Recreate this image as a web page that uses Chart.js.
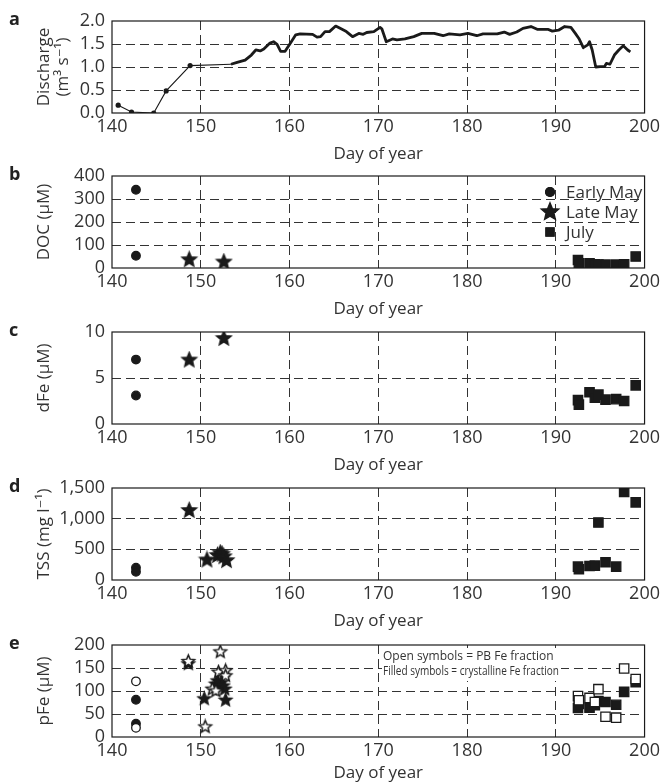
<!DOCTYPE html>
<html>
<head>
<meta charset="utf-8">
<script src="https://cdn.jsdelivr.net/npm/chart.js@4.4.1/dist/chart.umd.min.js"></script>
<style>
  html, body { margin: 0; padding: 0; background: #fff; }
  #wrap { position: relative; width: 663px; height: 784px; overflow: hidden; }
  #wrap canvas { position: absolute; left: 0; }
</style>
</head>
<body>
<div id="wrap">
  <canvas id="pa" width="663" height="165" style="top:0px"></canvas>
  <canvas id="pb" width="663" height="165" style="top:155px"></canvas>
  <canvas id="pc" width="663" height="165" style="top:311px"></canvas>
  <canvas id="pd" width="663" height="165" style="top:467px"></canvas>
  <canvas id="pe" width="663" height="160" style="top:624px"></canvas>
</div>
<script>
// day-of-year axis
const dayTicks = [140, 150, 160, 170, 180, 190, 200];

// a: discharge (m3 s-1)
const dischargeEarlyDays = [140.7, 142.2, 144.7, 146.1, 148.8, 153.4];
const dischargeEarly = [0.17, 0.02, 0.0, 0.48, 1.03, 1.06];
const dischargeDays = [153.4, 154.1, 155.0, 155.7, 156.2, 156.7, 157.1, 157.8, 158.2, 158.6, 159.0, 159.5, 160.0, 160.2, 160.7, 161.2, 162.6, 163.1, 163.5, 164.0, 164.5, 165.2, 165.7, 166.4, 167.1, 167.8, 168.3, 168.7, 169.5, 170.2, 170.4, 170.9, 171.6, 172.1, 173.0, 174.0, 174.9, 176.3, 177.3, 178.0, 179.2, 180.1, 181.1, 181.8, 183.4, 184.2, 184.8, 185.6, 186.3, 187.2, 187.9, 188.7, 189.1, 189.6, 190.3, 191.0, 191.7, 192.2, 192.6, 193.1, 193.6, 193.8, 194.1, 194.5, 195.0, 195.5, 195.7, 196.1, 196.6, 197.1, 197.6, 198.1, 198.4];
const discharge = [1.06, 1.10, 1.15, 1.26, 1.37, 1.35, 1.39, 1.52, 1.55, 1.49, 1.34, 1.34, 1.49, 1.55, 1.70, 1.72, 1.71, 1.65, 1.66, 1.77, 1.77, 1.89, 1.84, 1.77, 1.66, 1.73, 1.71, 1.75, 1.77, 1.86, 1.83, 1.55, 1.61, 1.59, 1.61, 1.66, 1.73, 1.73, 1.68, 1.72, 1.70, 1.73, 1.68, 1.72, 1.72, 1.76, 1.71, 1.76, 1.84, 1.88, 1.82, 1.82, 1.82, 1.78, 1.80, 1.88, 1.86, 1.73, 1.62, 1.42, 1.48, 1.55, 1.37, 1.00, 1.01, 1.01, 1.08, 1.06, 1.26, 1.37, 1.46, 1.37, 1.33];

// sampling days per campaign
const earlyMayDays = [142.7, 142.7];
const julyDays = [192.5, 192.6, 193.8, 194.4, 194.8, 195.6, 196.8, 197.7, 199.0];

// b: DOC (uM)
const docLateMayDays = [148.7, 152.6];
const docEarlyMay = [340, 53];
const docLateMay = [36, 26];
const docJuly = [35, 20, 20, 16, 15, 15, 15, 16, 50];

// c: dFe (uM)
const dfeLateMayDays = [148.7, 152.6];
const dfeEarlyMay = [7.0, 3.1];
const dfeLateMay = [6.95, 9.3];
const dfeJuly = [2.6, 2.1, 3.45, 2.85, 3.2, 2.65, 2.7, 2.5, 4.2];

// d: TSS (mg l-1)
const tssLateMayDays = [148.7, 150.7, 151.9, 152.2, 152.4, 152.6, 152.9];
const tssEarlyMay = [200, 135];
const tssLateMay = [1134, 327, 400, 440, 420, 380, 316];
const tssJuly = [218, 175, 229, 235, 938, 289, 218, 1435, 1265];

// e: pFe (uM), open = PB fraction, filled = crystalline fraction
const pfeEarlyMayOpen = [121, 20];
const pfeEarlyMayFilled = [81, 29];
const pfeLateMayOpenDays = [148.6, 150.5, 151.3, 151.7, 152.0, 152.2, 152.8, 152.8];
const pfeLateMayOpen = [164, 22, 104, 100, 141, 185, 144, 133];
const pfeLateMayFilledDays = [148.6, 150.4, 151.7, 151.9, 152.3, 152.5, 152.7, 152.8];
const pfeLateMayFilled = [159, 83, 115, 122, 118, 111, 104, 80];
const pfeJulyOpen = [89, 80, 85, 76, 104, 44, 42, 149, 126];
const pfeJulyFilled = [63, 72, 64, 69, 78, 76, 70, 98, 119];

const INK = '#1a1a1a';
const TEXT = '#333';
Chart.defaults.font.family = "'Open Sans', 'DejaVu Sans', sans-serif";
Chart.defaults.color = TEXT;

function pts(days, vals) {
  return vals.map((v, i) => ({ x: days[i], y: v }));
}

// five-point star used as a point image
function starImage(r, filled) {
  const c = document.createElement('canvas');
  const s = Math.ceil(r * 2 + 4);
  c.width = s; c.height = s;
  const g = c.getContext('2d');
  g.beginPath();
  for (let i = 0; i < 10; i++) {
    const rad = i % 2 === 0 ? r : r * 0.45;
    const a = -Math.PI / 2 + i * Math.PI / 5;
    const px = s / 2 + rad * Math.cos(a), py = s / 2 + rad * Math.sin(a);
    if (i === 0) g.moveTo(px, py); else g.lineTo(px, py);
  }
  g.closePath();
  g.fillStyle = filled ? INK : '#fff';
  g.fill();
  g.lineWidth = 1.5;
  g.strokeStyle = INK;
  g.stroke();
  return c;
}

const starBig = starImage(7.5, true);
const starFilled = starImage(6.5, true);
const starOpen = starImage(6.5, false);

const framePlugin = {
  id: 'frame',
  beforeDatasetsDraw(chart, args, opts) {
    if (opts.under) opts.under(chart.ctx, chart);
  },
  afterDraw(chart, args, opts) {
    const { ctx, chartArea: a } = chart;
    ctx.save();
    ctx.strokeStyle = INK;
    ctx.lineWidth = 1.2;
    ctx.strokeRect(a.left, a.top, a.right - a.left, a.bottom - a.top);
    ctx.fillStyle = '#222';
    ctx.font = "bold 18px 'Open Sans', sans-serif";
    ctx.textBaseline = 'middle';
    ctx.fillText(opts.letter, 9, 20);
    if (opts.draw) opts.draw(ctx, chart);
    ctx.restore();
  }
};

function options(letter, yMax, yStep, yTitle, fmt, draw, under) {
  return {
    responsive: false,
    animation: false,
    layout: { padding: { top: 21, right: 15, left: 0, bottom: 0 } },
    plugins: {
      legend: { display: false },
      tooltip: { enabled: false },
      frame: { letter: letter, draw: draw, under: under }
    },
    scales: {
      x: {
        type: 'linear', min: 140, max: 200,
        afterFit: s => { s.height = s.chart.height - 21 - 92; },
        afterBuildTicks: s => { s.ticks = dayTicks.map(v => ({ value: v })); },
        ticks: { font: { size: 18 }, padding: 3, maxRotation: 0, autoSkip: false },
        grid: {
          drawTicks: false, lineWidth: 1,
          color: c => (c.tick && (c.tick.value === 140 || c.tick.value === 200)) ? 'rgba(0,0,0,0)' : '#333'
        },
        border: { display: false, dash: [9, 5] },
        title: { display: true, text: 'Day of year', font: { size: 17, lineHeight: 1 }, padding: { bottom: 2.5 }, color: TEXT }
      },
      y: {
        min: 0, max: yMax,
        afterFit: s => { s.width = 112; },
        ticks: { stepSize: yStep, font: { size: 18, lineHeight: 1 }, padding: 7, callback: fmt, autoSkip: false },
        grid: {
          drawTicks: false, lineWidth: 1,
          color: c => (c.tick && (c.tick.value === 0 || c.tick.value === yMax)) ? 'rgba(0,0,0,0)' : '#333'
        },
        border: { display: false, dash: [9, 5] },
        title: { display: true, text: yTitle, font: { size: 17, lineHeight: 1.15 }, padding: { top: 34 }, color: TEXT }
      }
    }
  };
}

function circles(data, filled) {
  return {
    data: data, pointStyle: 'circle', pointRadius: 4.3,
    pointBackgroundColor: filled ? INK : '#fff', pointBorderColor: INK, pointBorderWidth: 1.3
  };
}
function squares(data, filled) {
  return {
    data: data, pointStyle: 'rect', pointRadius: 6.6,
    pointBackgroundColor: filled ? INK : '#fff', pointBorderColor: INK, pointBorderWidth: 1.3
  };
}
function stars(data, img) {
  return { data: data, pointStyle: img, pointRadius: 6 };
}

// a
new Chart(document.getElementById('pa'), {
  type: 'scatter',
  data: {
    datasets: [
      {
        data: pts(dischargeEarlyDays, dischargeEarly), showLine: true,
        borderColor: INK, borderWidth: 1.1, pointRadius: [2.6, 2.6, 2.6, 2.6, 2.6, 0],
        pointBackgroundColor: INK, pointBorderWidth: 0
      },
      {
        data: pts(dischargeDays, discharge), showLine: true,
        borderColor: INK, borderWidth: 2.8, pointRadius: 0, borderJoinStyle: 'round'
      }
    ]
  },
  options: options('a', 2.0, 0.5, ['Discharge', '(m\u00B3 s\u207B\u00B9)'], v => v.toFixed(1)),
  plugins: [framePlugin]
});

// b
const legendRows = [
  { label: 'Early May', kind: 'circle' },
  { label: 'Late May', kind: 'star' },
  { label: 'July', kind: 'rect' }
];
new Chart(document.getElementById('pb'), {
  type: 'scatter',
  data: {
    datasets: [
      circles(pts(earlyMayDays, docEarlyMay), true),
      stars(pts(docLateMayDays, docLateMay), starBig),
      squares(pts(julyDays, docJuly), true)
    ]
  },
  options: options('b', 400, 100, 'DOC (\u03BCM)', v => v, (ctx, chart) => {
    const a = chart.chartArea;
    ctx.font = "17px 'Open Sans', sans-serif";
    ctx.textBaseline = 'middle';
    legendRows.forEach((r, i) => {
      const x = a.left + 438, y = a.top + 16 + i * 20;
      if (r.kind === 'star') {
        const big = starImage(9, true);
        ctx.drawImage(big, x - big.width / 2, y - big.height / 2);
      } else {
        ctx.fillStyle = INK;
        Chart.helpers.drawPoint(ctx, { pointStyle: r.kind, radius: r.kind === 'rect' ? 6.6 : 5, borderWidth: 0 }, x, y);
        ctx.fill();
      }
      ctx.fillStyle = TEXT;
      ctx.fillText(r.label, x + 16, y + 1);
    });
  }),
  plugins: [framePlugin]
});

// c
new Chart(document.getElementById('pc'), {
  type: 'scatter',
  data: {
    datasets: [
      circles(pts(earlyMayDays, dfeEarlyMay), true),
      stars(pts(dfeLateMayDays, dfeLateMay), starBig),
      squares(pts(julyDays, dfeJuly), true)
    ]
  },
  options: options('c', 10, 5, 'dFe (\u03BCM)', v => v),
  plugins: [framePlugin]
});

// d
new Chart(document.getElementById('pd'), {
  type: 'scatter',
  data: {
    datasets: [
      circles(pts(earlyMayDays, tssEarlyMay), true),
      stars(pts(tssLateMayDays, tssLateMay), starBig),
      squares(pts(julyDays, tssJuly), true)
    ]
  },
  options: options('d', 1500, 500, 'TSS (mg l\u207B\u00B9)', v => v.toLocaleString('en-US')),
  plugins: [framePlugin]
});

// e
const noteLines = ['Open symbols = PB Fe fraction', 'Filled symbols = crystalline Fe fraction'];
new Chart(document.getElementById('pe'), {
  type: 'scatter',
  data: {
    datasets: [
      circles(pts(earlyMayDays, pfeEarlyMayOpen), false),
      circles(pts(earlyMayDays, pfeEarlyMayFilled), true),
      stars(pts(pfeLateMayOpenDays, pfeLateMayOpen), starOpen),
      stars(pts(pfeLateMayFilledDays, pfeLateMayFilled), starFilled),
      squares(pts(julyDays, pfeJulyOpen), false),
      squares(pts(julyDays, pfeJulyFilled), true)
    ]
  },
  options: options('e', 200, 50, 'pFe (\u03BCM)', v => v, (ctx, chart) => {
    const a = chart.chartArea;
    ctx.font = "12px 'Open Sans', sans-serif";
    ctx.fillStyle = TEXT;
    ctx.textBaseline = 'middle';
    ctx.fillText(noteLines[0], a.left + 271, a.top + 12, 172);
    ctx.fillText(noteLines[1], a.left + 271, a.top + 27, 176);
  }, (ctx, chart) => {
    // white box behind the note, over the gridlines
    const a = chart.chartArea;
    ctx.save();
    ctx.fillStyle = '#fff';
    ctx.fillRect(a.left + 270, a.top + 3, 179, 33);
    ctx.restore();
  }),
  plugins: [framePlugin]
});
</script>
</body>
</html>
